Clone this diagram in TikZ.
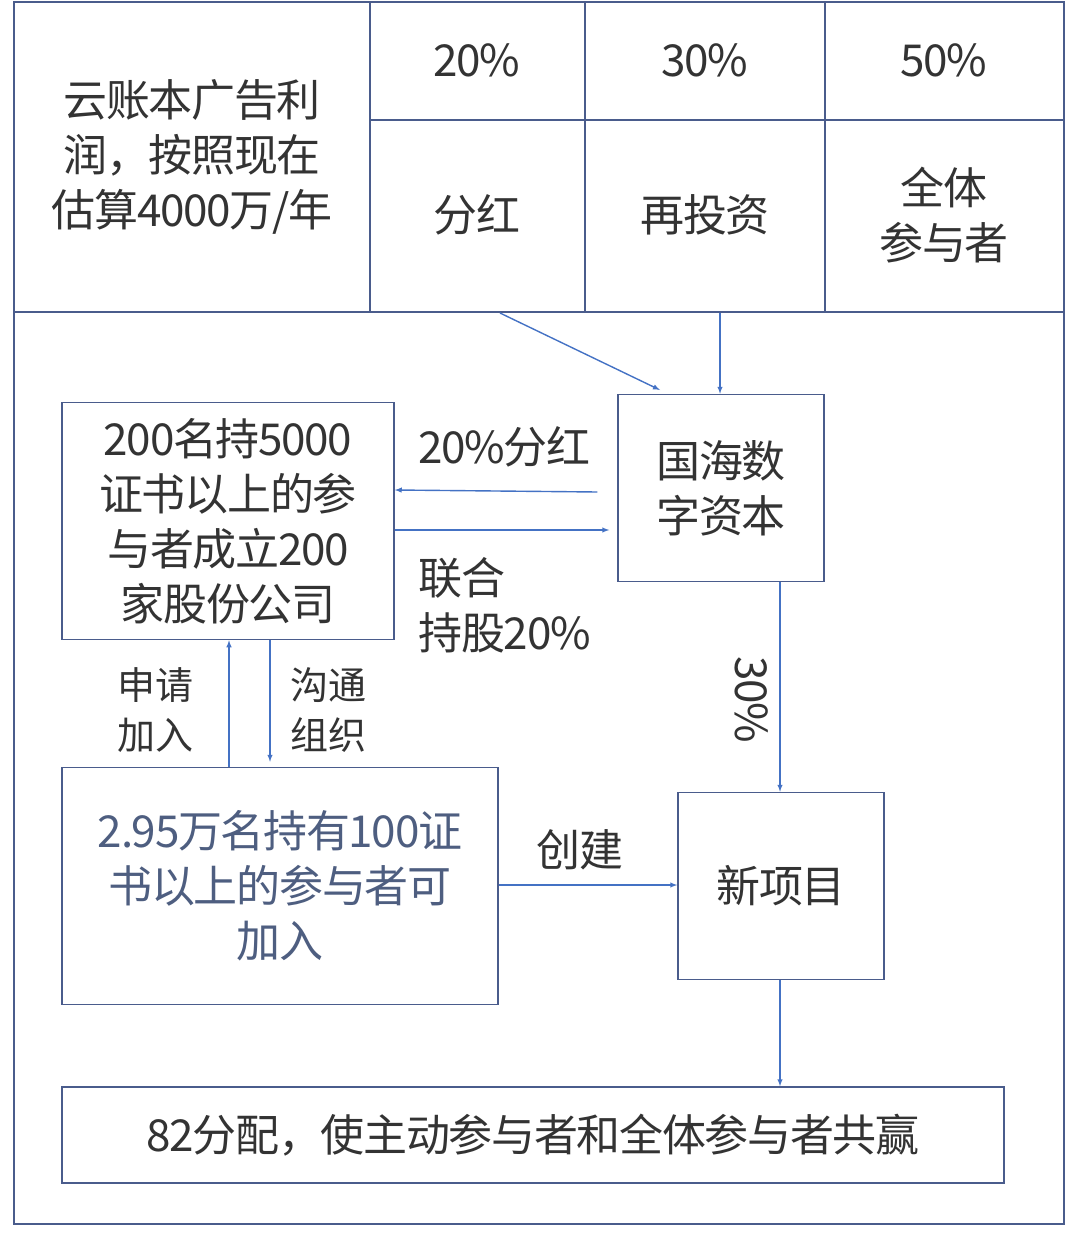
\documentclass[tikz,border=0pt]{standalone}
\usepackage{fontspec}
\setmainfont{Noto Sans CJK SC}
\begin{document}
\begin{tikzpicture}[x=1pt,y=-1pt,
 frame/.style={draw=cline,line width=1.5pt},
 box/.style={draw=cline,line width=1.5pt},
 txt/.style={text=black!80,font=\fontsize{44}{55}\selectfont\addfontfeature{LetterSpace=-3},align=center},
 arr/.style={-latex,draw=carr,line width=1.4pt}]
\definecolor{cbox}{HTML}{4E5E80}
\definecolor{cline}{HTML}{4A5C8C}
\definecolor{carr}{HTML}{4472C4}
\useasboundingbox (0,0) rectangle (1077,1233);
\draw[frame] (14,2) rectangle (1064,1224);
\draw[frame] (14,312) -- (1064,312);
\draw[frame] (370,2) -- (370,312) (585,2) -- (585,312) (825,2) -- (825,312) (370,120) -- (1064,120);
\node[txt] (t0) at (192,157) {云账本广告利\\润，按照现在\\估算4000万/年};
\node[txt] (p1) at (477,60) {20\%};
\node[txt] (p2) at (705,60) {30\%};
\node[txt] (p3) at (944,60) {50\%};
\node[txt] (q1) at (477,215) {分红};
\node[txt] (q2) at (705,215) {再投资};
\node[txt] (q3) at (944,215) {全体\\参与者};
\node[box,minimum width=332,minimum height=237] (A) at (228,521) {};
\node[txt] at (A) {200名持5000\\证书以上的参\\与者成立200\\家股份公司};
\node[box,minimum width=206,minimum height=187] (B) at (721,488) {};
\node[txt] at (B) {国海数\\字资本};
\node[box,minimum width=436,minimum height=237] (C) at (280,886) {};
\node[txt,text=cbox] at (C) {2.95万名持有100证\\书以上的参与者可\\加入};
\node[box,minimum width=206,minimum height=187] (D) at (781,886) {};
\node[txt] at (D) {新项目};
\node[box,minimum width=942,minimum height=96] (E) at (533,1135) {};
\node[txt] at (E) {82分配，使主动参与者和全体参与者共赢};
\coordinate (s1) at (500,313);
\coordinate (s2) at (720,313);
\draw[arr] (s1) -- (660,390);
\draw[arr] (s2) -- (B.north -| s2);
\draw[arr] ([yshift=-2]B.west |- 0,490) ++(-20,0) -- (A.east |- 0,490);
\draw[arr] (A.east |- 0,530) -- ([xshift=-8]B.west |- 0,530);
\node[txt,anchor=west] at (415,447) {20\%分红};
\node[txt,anchor=west,align=left] at (415,605) {联合\\持股20\%};
\draw[arr] (B.south -| 780,0) -- (D.north -| 780,0);
\node[txt,rotate=-90] at (752,700) {30\%};
\draw[arr] (C.north -| 229,0) -- (A.south -| 229,0);
\draw[arr] (A.south -| 270,0) -- ([yshift=5]C.north -| 270,0);
\node[txt,font=\fontsize{38}{50}\selectfont] at (155,710) {申请\\加入};
\node[txt,font=\fontsize{38}{50}\selectfont] at (328,710) {沟通\\组织};
\draw[arr] (C.east |- 0,885) -- (D.west |- 0,885);
\node[txt] at (580,850) {创建};
\draw[arr] (D.south -| 780,0) -- (E.north -| 780,0);
\end{tikzpicture}
\end{document}
